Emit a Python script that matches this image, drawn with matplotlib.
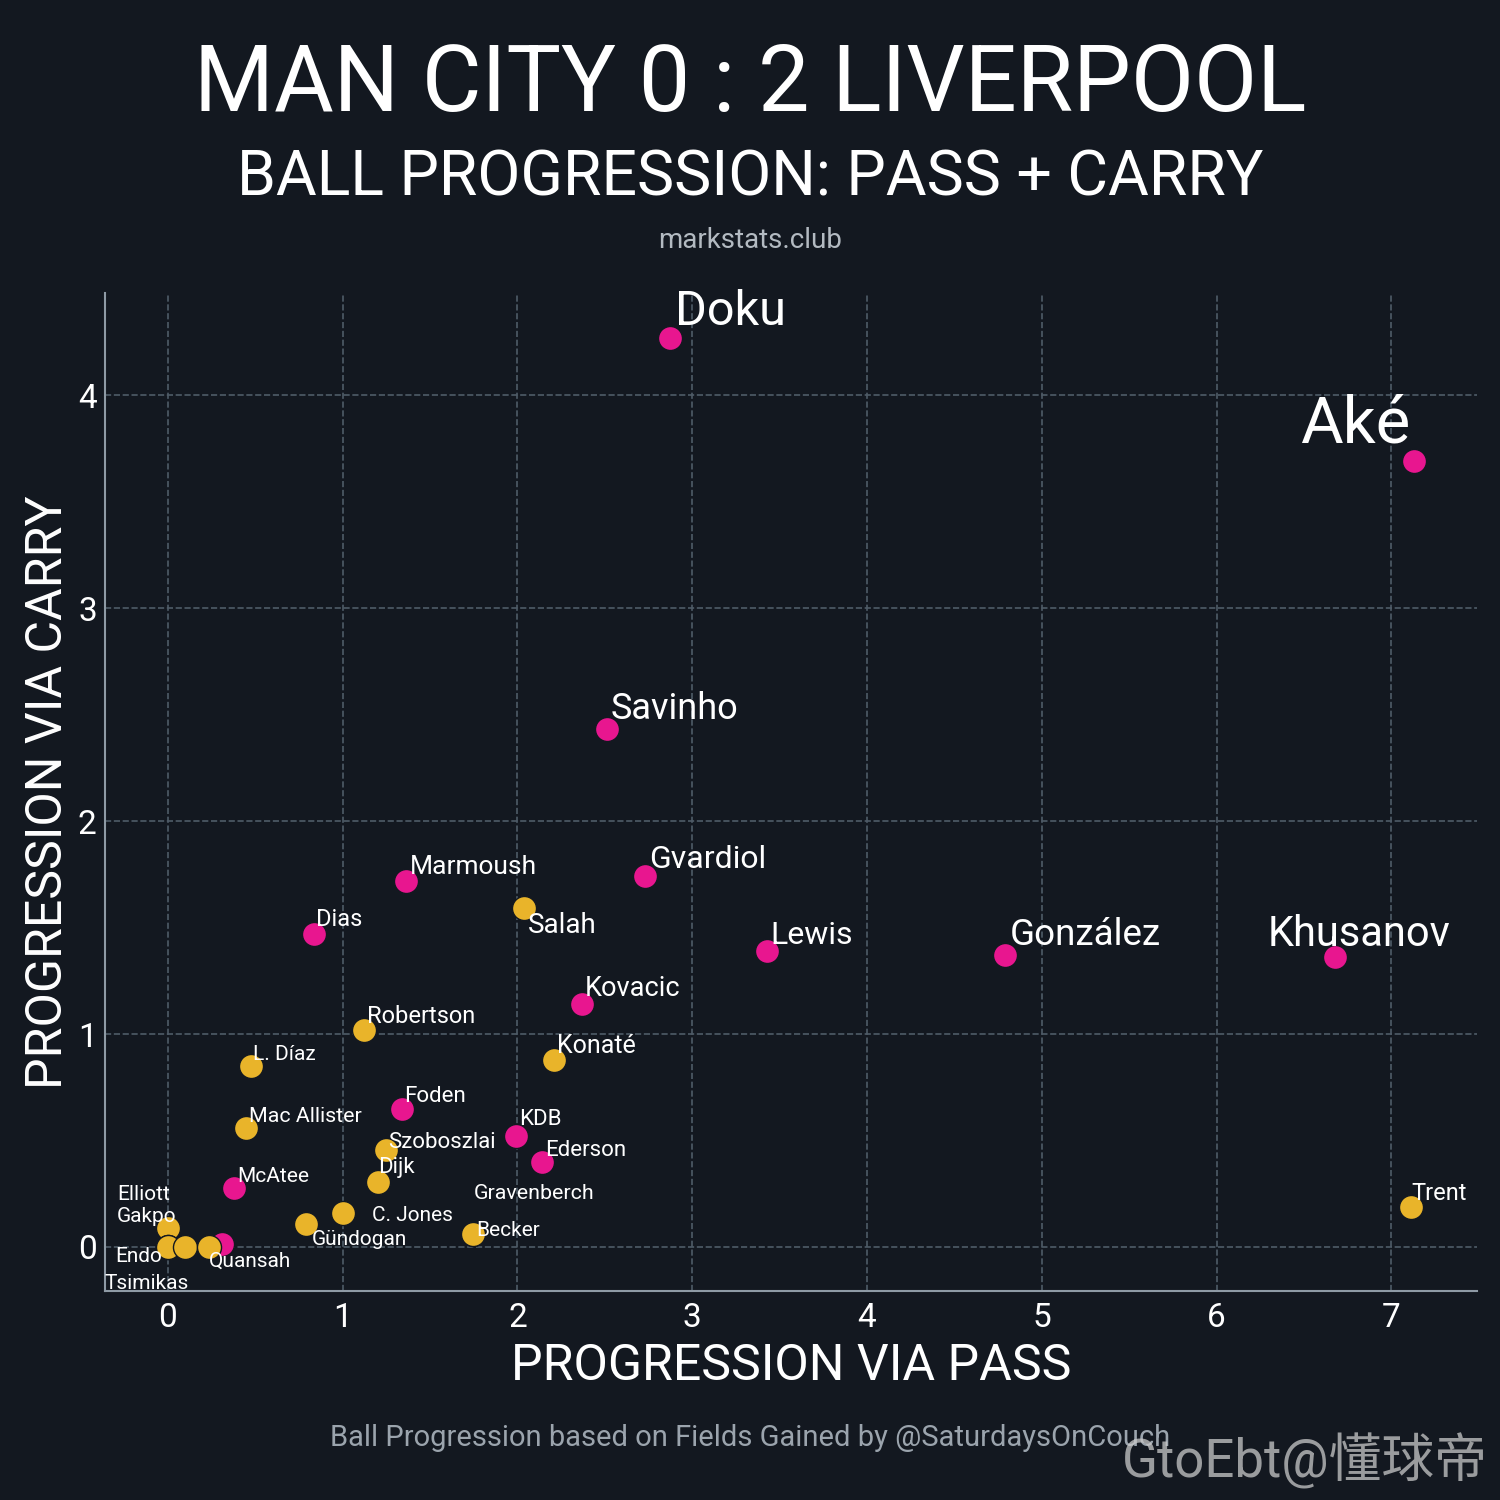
import matplotlib
matplotlib.use('Agg')
import matplotlib.pyplot as plt

plt.rcParams['font.family'] = ['Roboto', 'Noto Sans CJK SC', 'DejaVu Sans']

# Data
players = ['Doku', 'Aké', 'Savinho', 'Gvardiol', 'Marmoush', 'Dias', 'Lewis',
           'González', 'Khusanov', 'Kovacic', 'Foden', 'KDB', 'Ederson',
           'McAtee', '',
           'Salah', 'Robertson', 'Konaté', 'L. Díaz', 'Mac Allister',
           'Szoboszlai', 'Dijk', 'Trent', 'C. Jones', 'Gündogan',
           'Gravenberch', 'Becker', 'Gakpo', 'Elliott', 'Endo', 'Tsimikas',
           'Quansah']
team = ['city'] * 15 + ['lfc'] * 17
pass_prog = [2.87, 7.13, 2.51, 2.73, 1.36, 0.835, 3.43, 4.79, 6.68, 2.37,
             1.34, 1.99, 2.14, 0.378, 0.31,
             2.04, 1.12, 2.21, 0.475, 0.446, 1.25, 1.20, 7.11, 1.00, 0.79,
             1.745, 1.745, 0.0, 0.0, 0.0, 0.10, 0.235]
carry_prog = [4.27, 3.69, 2.43, 1.74, 1.72, 1.47, 1.39, 1.37, 1.36, 1.14,
              0.65, 0.52, 0.40, 0.277, 0.015,
              1.59, 1.02, 0.88, 0.85, 0.56, 0.456, 0.305, 0.19, 0.16, 0.108,
              0.061, 0.061, 0.09, 0.0, 0.0, 0.0, 0.0]

# label styling: font size, offset in pixels, alignment
label_size = {'Doku': 35, 'Aké': 47, 'Savinho': 26, 'Gvardiol': 23,
              'Marmoush': 19, 'Dias': 17, 'Lewis': 23, 'González': 26.5,
              'Khusanov': 30, 'Kovacic': 19.5, 'Foden': 16, 'KDB': 16,
              'Ederson': 16, 'McAtee': 15, 'Salah': 20, 'Robertson': 17,
              'Konaté': 18, 'L. Díaz': 15, 'Mac Allister': 15.4,
              'Szoboszlai': 16, 'Dijk': 16, 'Trent': 17, 'C. Jones': 15,
              'Gündogan': 15, 'Gravenberch': 15.4, 'Becker': 15, 'Gakpo': 15,
              'Elliott': 15, 'Endo': 15, 'Tsimikas': 15, 'Quansah': 15}
label_offset = {'Doku': (5, 13, 'left'), 'Aké': (-4, 19, 'right'),
                'Savinho': (4, 10, 'left'), 'Gvardiol': (4, 8, 'left'),
                'Marmoush': (4, 7, 'left'), 'Dias': (2, 8, 'left'),
                'Lewis': (3, 7, 'left'), 'González': (5, 10, 'left'),
                'Khusanov': (24, 11, 'center'), 'Kovacic': (3, 8, 'left'),
                'Foden': (2, 7, 'left'), 'KDB': (3, 11, 'left'),
                'Ederson': (3, 6, 'left'), 'McAtee': (3, 6, 'left'),
                'Salah': (3, -25, 'left'), 'Robertson': (3, 7, 'left'),
                'Konaté': (3, 7, 'left'), 'L. Díaz': (2, 6, 'left'),
                'Mac Allister': (3, 6, 'left'), 'Szoboszlai': (2, 2, 'left'),
                'Dijk': (0, 9, 'left'), 'Trent': (1, 7, 'left'),
                'C. Jones': (29, -8, 'left'), 'Gündogan': (6, -21, 'left'),
                'Gravenberch': (1, 35, 'left'), 'Becker': (3, -2, 'left'),
                'Gakpo': (8, 6, 'right'), 'Elliott': (2, 47, 'right'),
                'Endo': (-6, -15, 'right'), 'Tsimikas': (3, -42, 'right'),
                'Quansah': (0, -20, 'left')}

BG = '#131820'
PINK = '#e8168f'
YELLOW = '#e9b42a'

fig = plt.figure(figsize=(15, 15), dpi=100, facecolor=BG)
ax = fig.add_axes([0.07, 0.1393, 0.9147, 0.6654])
ax.set_facecolor(BG)

# city first, liverpool on top
for t, col in [('city', PINK), ('lfc', YELLOW)]:
    xs = [x for x, tt in zip(pass_prog, team) if tt == t]
    ys = [y for y, tt in zip(carry_prog, team) if tt == t]
    ax.scatter(xs, ys, s=300, color=col, edgecolor=BG, linewidth=1, zorder=3)

for name, x, y in zip(players, pass_prog, carry_prog):
    if not name:
        continue
    dx, dy, ha = label_offset[name]
    ax.annotate(name, (x, y), xytext=(dx, dy), textcoords='offset pixels',
                ha=ha, va='baseline', color='white',
                fontsize=label_size[name], zorder=4)

ax.set_xlim(-0.36, 7.49)
ax.set_ylim(-0.207, 4.48)
ax.set_xticks(range(0, 8))
ax.set_yticks(range(0, 5))
ax.grid(True, color='#4f5c68', linestyle='--', linewidth=1.2, zorder=0)
ax.set_axisbelow(True)
ax.tick_params(colors='white', labelsize=24, length=0, pad=8)
ax.tick_params(axis='y', pad=6)
for s in ['top', 'right']:
    ax.spines[s].set_visible(False)
for s in ['left', 'bottom']:
    ax.spines[s].set_color('#8e9aa5')
    ax.spines[s].set_linewidth(1.5)

ax.set_xlabel('PROGRESSION VIA PASS', color='white', fontsize=36, labelpad=6)
ax.set_ylabel('PROGRESSION VIA CARRY', color='white', fontsize=36, labelpad=4)

fig.text(0.5, 0.943, 'MAN CITY 0 : 2 LIVERPOOL', color='white',
         fontsize=66, ha='center', va='center')
fig.text(0.5, 0.881, 'BALL PROGRESSION: PASS + CARRY', color='white',
         fontsize=45, ha='center', va='center')
fig.text(0.5, 0.840, 'markstats.club', color='#b3bac1',
         fontsize=20, ha='center', va='center')
fig.text(0.5, 0.041, 'Ball Progression based on Fields Gained by @SaturdaysOnCouch',
         color='#9ba4ad', fontsize=21, ha='center', va='center')
fig.text(0.992, 0.026, 'GtoEbt@懂球帝', color='#c9c9c9', alpha=0.75,
         fontsize=38, ha='right', va='center')

fig.savefig('out.png', dpi=100, facecolor=BG)
